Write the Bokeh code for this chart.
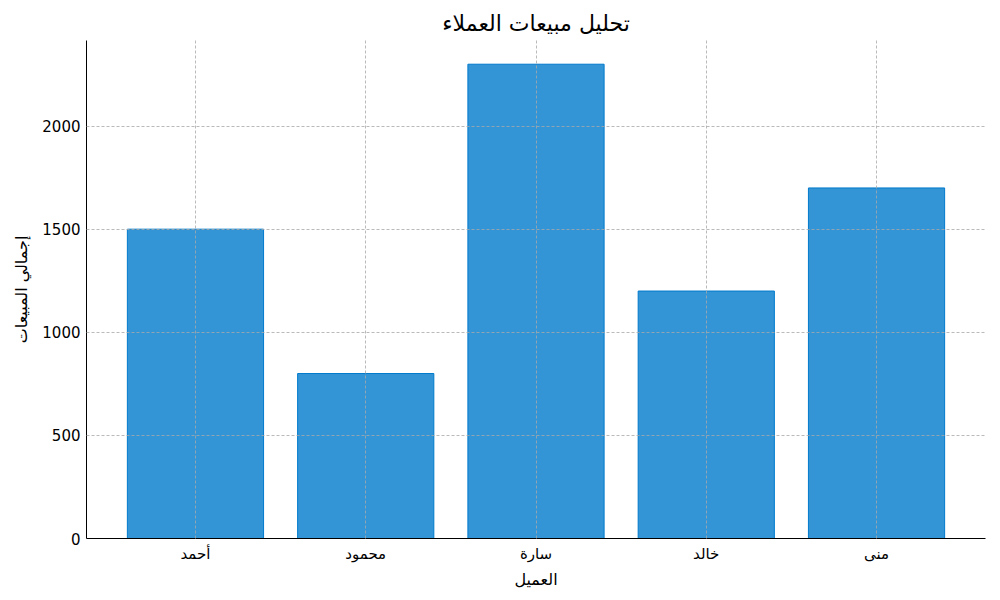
from bokeh.plotting import figure
from bokeh.models import FixedTicker, Range1d
from bokeh.embed import file_html
from bokeh.resources import INLINE

customers = ["أحمد", "محمود", "سارة", "خالد", "منى"]
sales = [1500, 800, 2300, 1200, 1700]
y_ticks = [0, 500, 1000, 1500, 2000]

p = figure(x_range=customers, width=992, height=592, output_backend="svg",
           toolbar_location=None, min_border_left=86, min_border_right=7,
           min_border_top=40, min_border_bottom=54)
p.x_range.range_padding = 0.056
p.y_range = Range1d(0, 2415)

p.vbar(x=customers, top=sales, width=0.8, fill_color="#007acc", fill_alpha=0.8,
       line_color="#007acc", line_width=1)

p.title.text = "تحليل مبيعات العملاء"
p.title.align = "center"
p.title.text_font = "DejaVu Sans"
p.title.text_font_size = "22px"
p.title.text_font_style = "normal"
p.title.text_color = "black"
p.title.standoff = 9
p.title.offset = 0

p.xaxis.axis_label = "العميل"
p.yaxis.axis_label = "إجمالي المبيعات"
for ax in (p.xaxis, p.yaxis):
    ax.axis_label_text_font = "DejaVu Sans"
    ax.axis_label_text_font_size = "16px"
    ax.axis_label_text_font_style = "normal"
    ax.axis_label_text_color = "black"
    ax.major_label_text_font = "DejaVu Sans"
    ax.major_label_text_font_size = "15px"
    ax.major_label_text_color = "black"
    ax.axis_line_color = "black"
    ax.major_tick_out = 0
    ax.major_tick_in = 0
    ax.minor_tick_out = 0
    ax.minor_tick_in = 0
p.yaxis.ticker = FixedTicker(ticks=y_ticks)
p.yaxis.major_label_standoff = 6
p.xaxis.major_label_standoff = 6
p.yaxis.axis_label_standoff = 8
p.xaxis.axis_label_standoff = 4

p.outline_line_color = None
for g in (p.xgrid, p.ygrid):
    g.level = "overlay"
    g.grid_line_color = "#a8a8a8"
    g.grid_line_dash = "3 2"
    g.grid_line_width = 0.8

open("out.html", "w").write(file_html(p, INLINE))
